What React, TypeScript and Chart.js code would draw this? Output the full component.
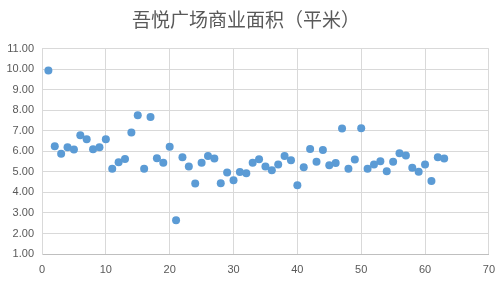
import React, { useEffect, useRef } from "react";
import { Chart, registerables } from "chart.js";

Chart.register(...registerables);

const TITLE = "吾悦广场商业面积（平米）";
const AREA_VALUES: number[] = [
  9.94, 6.25, 5.88, 6.2, 6.09, 6.79, 6.59, 6.11, 6.2, 6.59,
  5.16, 5.47, 5.63, 6.92, 7.76, 5.15, 7.68, 5.67, 5.45, 6.23,
  2.64, 5.72, 5.26, 4.43, 5.45, 5.78, 5.65, 4.45, 4.97, 4.59,
  5.0, 4.94, 5.45, 5.62, 5.26, 5.08, 5.36, 5.77, 5.57, 4.35,
  5.23, 6.12, 5.49, 6.07, 5.33, 5.44, 7.11, 5.16, 5.6, 7.13,
  5.16, 5.36, 5.52, 5.03, 5.5, 5.91, 5.8, 5.2, 5.01, 5.36,
  4.56, 5.72, 5.65,
];
const X_MIN = 0;
const X_MAX = 70;
const X_STEP = 10;
const Y_MIN = 1;
const Y_MAX = 11;
const Y_STEP = 1;

export default function App() {
  const ref = useRef<HTMLCanvasElement | null>(null);
  useEffect(() => {
    if (!ref.current) return;
    const points = AREA_VALUES.map((v, i) => ({ x: i + 1, y: v }));
    const chart = new Chart(ref.current, {
      type: "scatter",
      data: {
        datasets: [
          {
            data: points,
            backgroundColor: "#5B9BD5",
            borderColor: "#5B9BD5",
            pointRadius: 4,
            pointHoverRadius: 4,
            borderWidth: 0,
          },
        ],
      },
      options: {
        animation: false,
        responsive: false,
        layout: { padding: { left: 0, right: 12, top: 0, bottom: 0 } },
        plugins: {
          legend: { display: false },
          tooltip: { enabled: false },
          title: {
            display: true,
            text: TITLE,
            color: "#595959",
            font: { family: "'Noto Sans CJK SC', sans-serif", size: 19, weight: "normal" },
            padding: { top: 8, bottom: 18 },
          },
        },
        scales: {
          x: {
            type: "linear",
            min: X_MIN,
            max: X_MAX,
            ticks: {
              stepSize: X_STEP,
              color: "#595959",
              font: { family: "'Liberation Sans', sans-serif", size: 11 },
              padding: 9,
              maxRotation: 0,
            },
            grid: { color: "#d9d9d9", drawTicks: false },
            border: { color: "#bfbfbf" },
            afterFit: (s: any) => {
              s.height = 29;
            },
          },
          y: {
            type: "linear",
            min: Y_MIN,
            max: Y_MAX,
            ticks: {
              stepSize: Y_STEP,
              color: "#595959",
              font: { family: "'Liberation Sans', sans-serif", size: 11 },
              padding: 8,
              callback: (v: any) => Number(v).toFixed(2),
            },
            grid: { color: "#d9d9d9", drawTicks: false },
            border: { color: "#d9d9d9" },
            afterFit: (s: any) => {
              s.width = 42;
            },
          },
        },
      },
    });
    return () => chart.destroy();
  }, []);
  return (
    <div style={{ position: "fixed", left: 0, top: 0, width: 504, height: 283, background: "#fff" }}>
      <canvas ref={ref} width={504} height={283} style={{ width: 504, height: 283 }} />
    </div>
  );
}
